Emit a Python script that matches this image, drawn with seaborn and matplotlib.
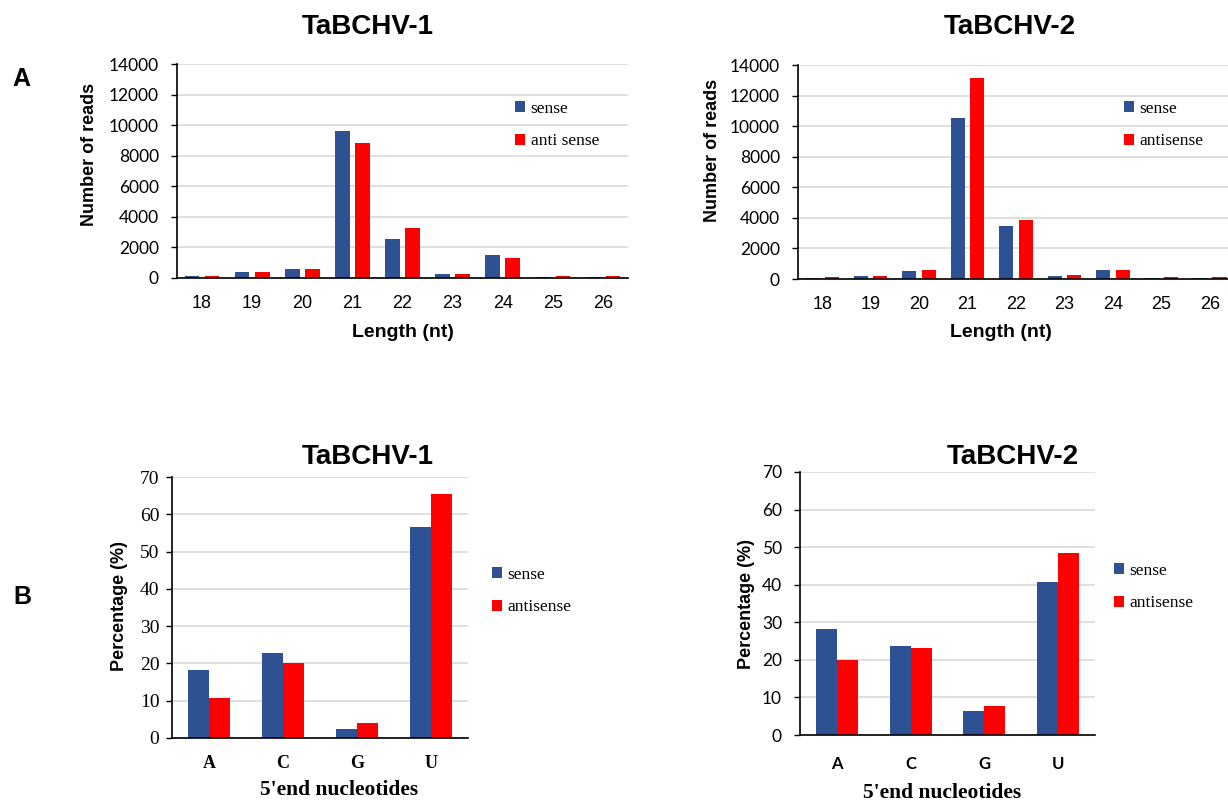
import matplotlib
matplotlib.use("Agg")
import matplotlib.pyplot as plt
import pandas as pd
import seaborn as sns

# ---- data ----
lengths = ["18", "19", "20", "21", "22", "23", "24", "25", "26"]
v1_len_sense = [110, 400, 600, 9600, 2550, 280, 1480, 90, 90]
v1_len_anti = [120, 400, 600, 8850, 3250, 290, 1280, 110, 110]
v2_len_sense = [90, 220, 500, 10520, 3440, 200, 590, 80, 80]
v2_len_anti = [100, 220, 610, 13130, 3830, 280, 590, 100, 100]

nucleotides = ["A", "C", "G", "U"]
v1_nt_sense = [18.2, 22.7, 2.5, 56.5]
v1_nt_anti = [10.6, 20.0, 4.0, 65.4]
v2_nt_sense = [28.3, 23.8, 6.3, 40.7]
v2_nt_anti = [20.0, 23.2, 7.6, 48.5]

strands = ["sense", "antisense"]
colors = ["#2E5194", "#FF0000"]

W, H = 1228, 802

sns.set_style("white")
plt.rcParams.update({"text.color": "black", "axes.labelcolor": "black",
                     "xtick.color": "black", "ytick.color": "black"})
fig = plt.figure(figsize=(W / 100, H / 100), dpi=100)


def px_axes(left, top, right, bottom):
    return fig.add_axes([left / W, 1 - bottom / H, (right - left) / W, (bottom - top) / H])


def long_df(cats, sense, anti, col):
    return pd.DataFrame({
        col: cats * 2,
        "value": sense + anti,
        "strand": ["sense"] * len(cats) + ["antisense"] * len(cats),
    })


def style_axes(ax, ymax, step, ytick_font, ytick_size, ypad, xtick_font, xtick_size,
               xtick_weight, xpad):
    ax.set_ylim(0, ymax)
    ax.set_yticks(range(0, ymax + 1, step))
    ax.yaxis.grid(True, color="#D9D9D9", linewidth=1.2)
    ax.set_axisbelow(True)
    for s in ["top", "right"]:
        ax.spines[s].set_visible(False)
    for s in ["left", "bottom"]:
        ax.spines[s].set_color("black")
        ax.spines[s].set_linewidth(1.2)
    ax.tick_params(axis="y", length=4, width=1, color="black", pad=ypad, left=True)
    ax.tick_params(axis="x", length=0, pad=xpad)
    for t in ax.get_yticklabels():
        t.set_fontfamily(ytick_font)
        t.set_fontsize(ytick_size)
    for t in ax.get_xticklabels():
        t.set_fontfamily(xtick_font)
        t.set_fontsize(xtick_size)
        t.set_fontweight(xtick_weight)


def add_legend(ax, labels, x, top):
    ax.legend(ax.containers, labels, loc="upper left",
              bbox_to_anchor=(x / W, 1 - top / H), bbox_transform=fig.transFigure,
              frameon=False, borderpad=0, borderaxespad=0, handlelength=0.6,
              handleheight=0.6, handletextpad=0.3, labelspacing=0.95,
              prop={"family": "Liberation Serif", "size": 12.5})


def set_labels(ax, xlabel, xpos, ylabel, ypos, xfont, xsize):
    ax.set_xlabel(xlabel, fontfamily=xfont, fontsize=xsize, fontweight="bold")
    ax.xaxis.set_label_coords(*xpos)
    ax.xaxis.label.set_va("center")
    ax.set_ylabel(ylabel, fontfamily="Liberation Sans", fontsize=13, fontweight="bold")
    ax.yaxis.set_label_coords(*ypos)
    ax.yaxis.label.set_va("center")


def bars(ax, df, col, width, gap):
    sns.barplot(df, x=col, y="value", hue="strand", palette=colors, saturation=1,
                width=width, gap=gap, errorbar=None, linewidth=0, legend=False, ax=ax)


# ---- A: length distribution ----
axA1 = px_axes(177, 64, 628, 278)
bars(axA1, long_df(lengths, v1_len_sense, v1_len_anti, "length"), "length", 0.8, 0.27)
style_axes(axA1, 14000, 2000, "Lato", 12.5, 9, "Liberation Sans", 13, "normal", 12)
set_labels(axA1, "Length (nt)", (0.501, -0.257), "Number of reads", (-0.193, 0.579),
           "Liberation Sans", 14)
add_legend(axA1, ["sense", "anti sense"], 515, 101)

axA2 = px_axes(798, 65, 1234, 279)
bars(axA2, long_df(lengths, v2_len_sense, v2_len_anti, "length"), "length", 0.8, 0.27)
style_axes(axA2, 14000, 2000, "Lato", 12.5, 9, "Liberation Sans", 13, "normal", 12)
set_labels(axA2, "Length (nt)", (0.465, -0.252), "Number of reads", (-0.195, 0.603),
           "Liberation Sans", 14)
add_legend(axA2, ["sense", "antisense"], 1124, 101)

# ---- B: 5' end nucleotides ----
axB1 = px_axes(172, 477, 468, 738)
bars(axB1, long_df(nucleotides, v1_nt_sense, v1_nt_anti, "nt"), "nt", 0.57, 0)
style_axes(axB1, 70, 10, "Liberation Serif", 14, 5, "Liberation Serif", 13, "bold", 12)
set_labels(axB1, "5'end nucleotides", (0.566, -0.199), "Percentage (%)", (-0.176, 0.506),
           "Liberation Serif", 15.5)
add_legend(axB1, ["sense", "antisense"], 492, 567)

axB2 = px_axes(800, 472, 1095, 735)
bars(axB2, long_df(nucleotides, v2_nt_sense, v2_nt_anti, "nt"), "nt", 0.57, 0)
style_axes(axB2, 70, 10, "Lato", 12.5, 9, "Lato", 12, "bold", 15)
set_labels(axB2, "5'end nucleotides", (0.483, -0.221), "Percentage (%)", (-0.18, 0.498),
           "Liberation Serif", 15.5)
add_legend(axB2, ["sense", "antisense"], 1114, 563)

# titles and panel letters
for x, y, txt in [(368, 27, "TaBCHV-1"), (1010, 27, "TaBCHV-2"),
                  (368, 457, "TaBCHV-1"), (1013, 457, "TaBCHV-2")]:
    fig.text(x / W, 1 - y / H, txt, ha="center", va="center",
             fontfamily="Liberation Sans", fontsize=20, fontweight="bold")
fig.text(21 / W, 1 - 79 / H, "A", ha="center", va="center",
         fontfamily="Liberation Sans", fontsize=18, fontweight="bold")
fig.text(22 / W, 1 - 597 / H, "B", ha="center", va="center",
         fontfamily="Liberation Sans", fontsize=18, fontweight="bold")

fig.savefig("out.png", dpi=100)
